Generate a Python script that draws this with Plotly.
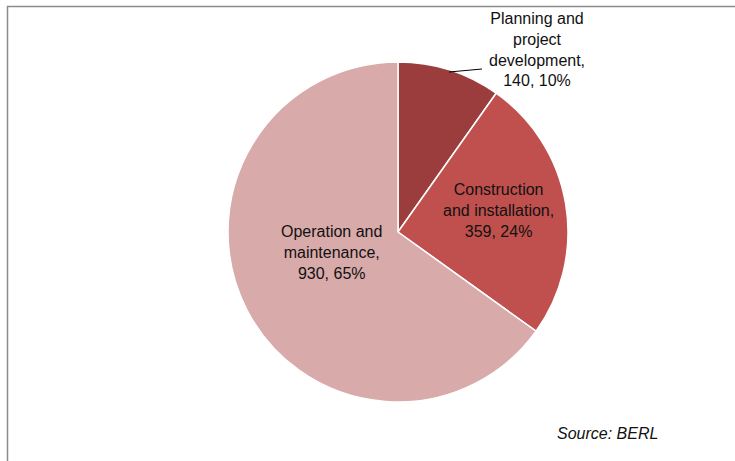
import plotly.graph_objects as go

W, H = 735, 461

categories = ['Planning and project development', 'Construction and installation', 'Operation and maintenance']
values = [140, 359, 930]
shares = ['10%', '24%', '65%']
colors = ['#9B3D3C', '#C0504D', '#D9AAAA']

# label text, as on the original chart
label_lines = [
    ['Planning and', 'project', 'development,'],
    ['Construction', 'and installation,'],
    ['Operation and', 'maintenance,'],
]


def px(x):
    return x / W


def py(y):
    return (H - y) / H


# pie box in pixels: centre (398, 232), radius 170
cx, cy, r = 398, 232, 170

fig = go.Figure()
fig.add_trace(go.Pie(
    labels=categories,
    values=values,
    sort=False,
    direction='clockwise',
    rotation=0,
    marker=dict(colors=colors, line=dict(color='white', width=1.5)),
    textinfo='none',
    hoverinfo='label+value+percent',
    showlegend=False,
    domain=dict(x=[px(cx - r), px(cx + r)], y=[py(cy + r), py(cy - r)]),
))

label_pos = [(537, 49), (498, 210), (331, 252)]
for lines, v, s, (x, y) in zip(label_lines, values, shares, label_pos):
    text = '<br>'.join(lines + [f'{v}, {s}'])
    fig.add_annotation(
        x=px(x), y=py(y), xref='paper', yref='paper',
        text=text, showarrow=False, align='center',
        font=dict(family='Liberation Sans, Arial', size=16, color='#111111'),
        xanchor='center', yanchor='middle',
    )

# leader line for the small slice
fig.add_shape(type='line', xref='paper', yref='paper',
              x0=px(449), y0=py(72), x1=px(482), y1=py(69),
              line=dict(color='black', width=1))

fig.add_annotation(
    x=px(607), y=py(433), xref='paper', yref='paper',
    text='<i>Source: BERL</i>', showarrow=False,
    font=dict(family='Liberation Sans, Arial', size=16, color='#111111'),
    xanchor='center', yanchor='middle',
)

# chart frame (top and left edges visible)
fig.add_shape(type='line', xref='paper', yref='paper',
              x0=px(7), y0=py(6.5), x1=1, y1=py(6.5),
              line=dict(color='#8C8C8C', width=1.5))
fig.add_shape(type='line', xref='paper', yref='paper',
              x0=px(7.5), y0=py(6), x1=px(7.5), y1=0,
              line=dict(color='#8C8C8C', width=1.5))

fig.update_layout(
    width=W, height=H,
    margin=dict(l=0, r=0, t=0, b=0),
    paper_bgcolor='white',
    plot_bgcolor='white',
)

# drop the page's default body margin so the figure sits at the window origin
fig.write_html('out.html', config={'displayModeBar': False},
               post_script="document.body.style.margin = '0';")
